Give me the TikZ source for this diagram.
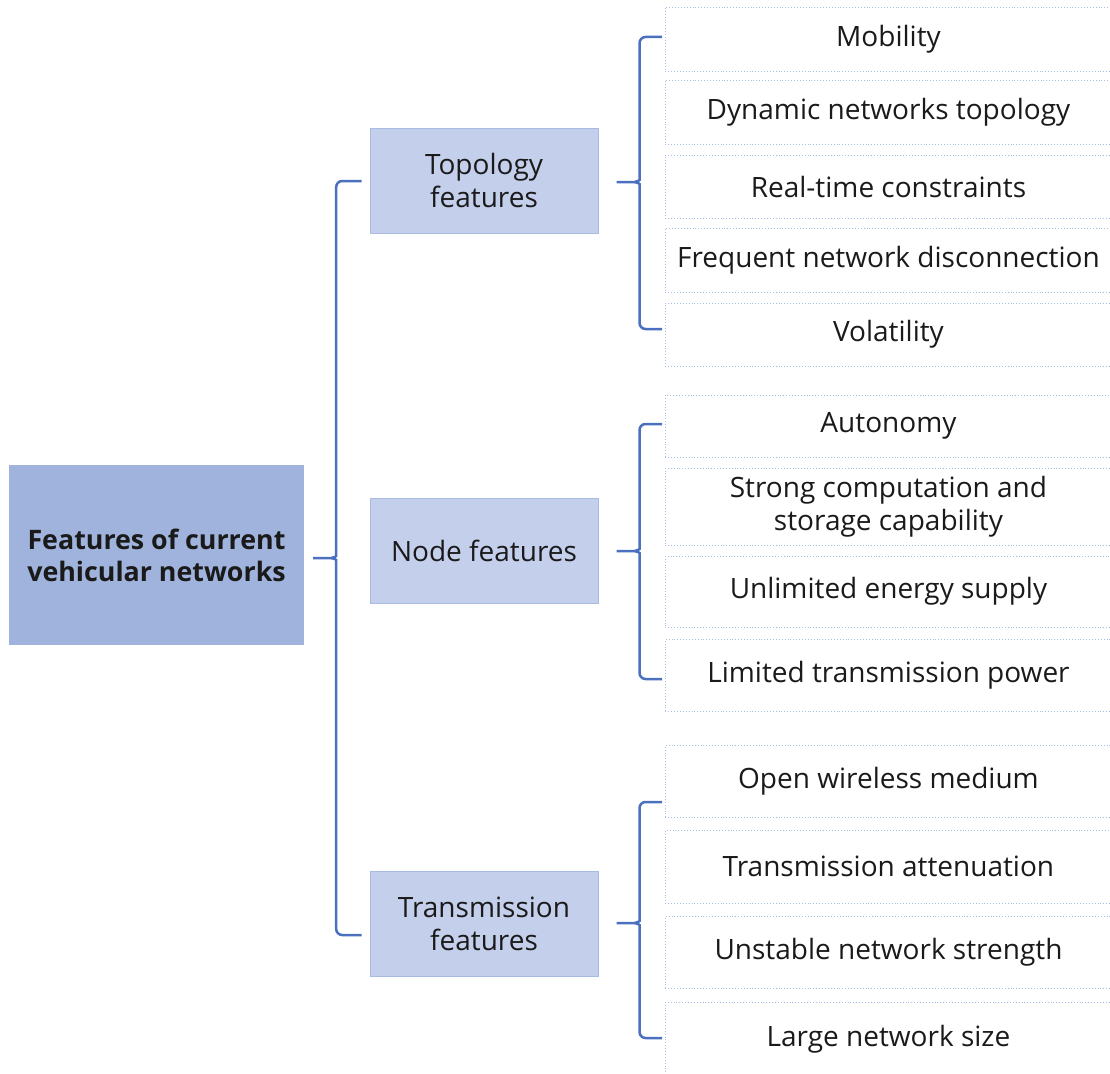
\documentclass[tikz,border=0pt]{standalone}
\usepackage{fontspec}
\setmainfont{Open Sans}
\usetikzlibrary{calc}

\definecolor{rootfill}{HTML}{9FB3DD}
\definecolor{midfill}{HTML}{C4CFEB}
\definecolor{midline}{HTML}{A9BBE2}
\definecolor{braceline}{HTML}{4A70BF}
\definecolor{leafline}{HTML}{A6BDE6}
\definecolor{inkcol}{HTML}{1A1A1A}

\tikzset{
  rootbox/.style={draw=none, fill=rootfill, minimum width=295pt, minimum height=180pt,
    align=center, text=inkcol, inner sep=0pt,
    font=\fontsize{26.8}{32}\selectfont\bfseries},
  midbox/.style={draw=midline, line width=1pt, fill=midfill, minimum width=228pt,
    minimum height=105pt, align=center, text=inkcol, inner sep=0pt,
    font=\fontsize{28}{33}\selectfont},
  leafbox/.style={draw=leafline, dotted, line width=0.9pt, anchor=west,
    minimum width=446pt, align=center, text=inkcol, inner sep=0pt,
    font=\fontsize{28}{33}\selectfont},
  brace/.style={draw=braceline, line width=2.5pt}
}

% curly brace: #1 tip, #2 upper end, #3 lower end
\newcommand\featbrace[3]{%
  \draw[brace] [rounded corners=6pt] (#2) -| ($(#1)+(23,-8)$) [sharp corners]
     .. controls +(0,6) and +(3,0) .. ($(#1)+(18,0)$) -- (#1);
  \draw[brace] [rounded corners=6pt] (#3) -| ($(#1)+(23,8)$) [sharp corners]
     .. controls +(0,-6) and +(3,0) .. ($(#1)+(18,0)$);
}

\begin{document}
\begin{tikzpicture}[x=1pt,y=-1pt]
\useasboundingbox (0,0) rectangle (1110,1073);
\clip (0,0) rectangle (1110,1073);

% root and the three feature groups
\node[rootbox] (root) at (156.5,555) {Features of current\\vehicular networks};
\node[midbox] (topo)  at (484,180.5) {Topology\\features};
\node[midbox] (nodef) at (484,550.5) {Node features};
\node[midbox] (trans) at (484,923.5) {Transmission\\features};

% topology features
\node[leafbox, minimum height=64pt] (mob) at (665,39)    {Mobility};
\node[leafbox, minimum height=64pt] (dyn) at (665,112)   {Dynamic networks topology};
\node[leafbox, minimum height=63pt] (rtc) at (665,186.5) {Real-time constraints};
\node[leafbox, minimum height=64pt] (fnd) at (665,260)   {Frequent network disconnection};
\node[leafbox, minimum height=63pt] (vol) at (665,334.5) {Volatility};

% node features
\node[leafbox, minimum height=62pt] (aut) at (665,426)   {Autonomy};
\node[leafbox, minimum height=77pt] (scs) at (665,506.5) {Strong computation and\\storage capability};
\node[leafbox, minimum height=71pt] (ues) at (665,591.5) {Unlimited energy supply};
\node[leafbox, minimum height=72pt] (ltp) at (665,675)   {Limited transmission power};

% transmission features
\node[leafbox, minimum height=72pt] (owm) at (665,781)   {Open wireless medium};
\node[leafbox, minimum height=73pt] (tat) at (665,866.5) {Transmission attenuation};
\node[leafbox, minimum height=72pt] (uns) at (665,952)   {Unstable network strength};
\node[leafbox, minimum height=74pt] (lns) at (665,1039)  {Large network size};

% brace anchors
\coordinate (tipR) at ($(root.east)+(9,3)$);
\coordinate (tipT) at ($(topo.east)+(18,1.5)$);
\coordinate (tipN) at ($(nodef.east)+(18,0.5)$);
\coordinate (tipX) at ($(trans.east)+(18,-0.5)$);

\featbrace{tipR}{$(topo.west)+(-8,0.5)$}{$(trans.west)+(-8,11.5)$}
\featbrace{tipT}{$(mob.west)+(-3,-2)$}{$(vol.west)+(-3,-5.5)$}
\featbrace{tipN}{$(aut.west)+(-3,-2)$}{$(ltp.west)+(-3,4)$}
\featbrace{tipX}{$(owm.west)+(-3,21)$}{$(lns.west)+(-3,-1)$}
\end{tikzpicture}
\end{document}
